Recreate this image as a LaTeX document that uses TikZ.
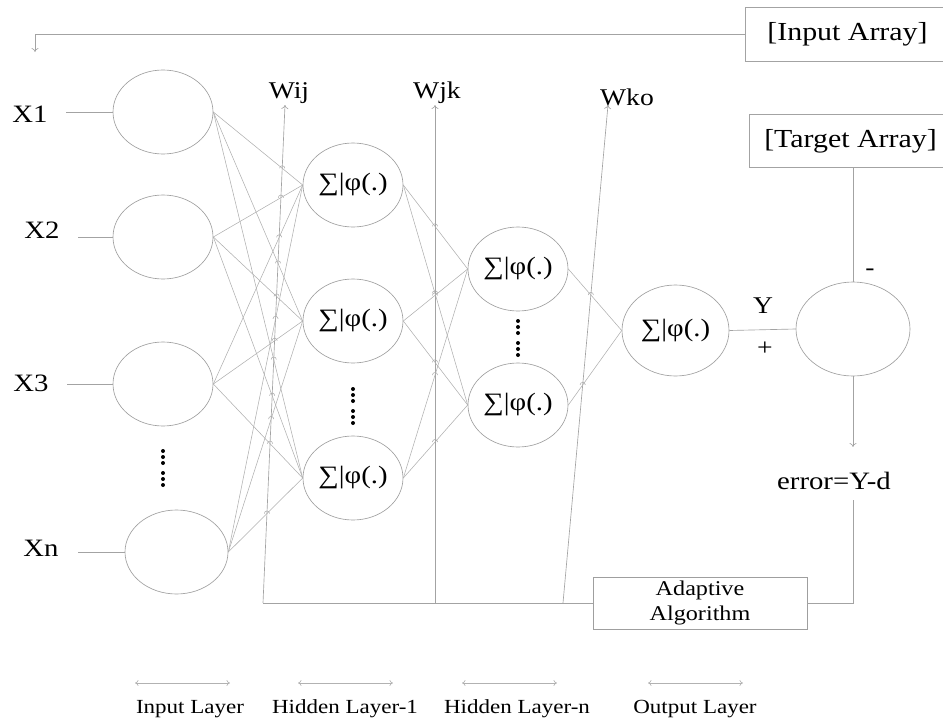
\documentclass[tikz,border=0pt]{standalone}
\usepackage{fontspec}
\setmainfont{Liberation Serif}[FakeStretch=1.15]
\usetikzlibrary{shapes.geometric,arrows.meta,intersections,calc}

\tikzset{
  neuron/.style={ellipse, draw=gray!75, line width=0.65pt, minimum width=100pt,
    minimum height=84pt, inner sep=0pt, font=\fontsize{25}{27}\selectfont},
  conn/.style={draw=gray!62, line width=0.55pt},
  wire/.style={draw=gray!72, line width=0.65pt},
  tip/.style={-{To[length=4pt,width=7pt]}},
  bothtips/.style={{To[length=3.5pt,width=6pt]}-{To[length=3.5pt,width=6pt]}},
  hop/.style={draw=gray!65, line width=0.55pt},
  lbl/.style={inner sep=0pt, font=\fontsize{24}{26}\selectfont},
  xlbl/.style={inner sep=0pt, font=\fontsize{25}{27}\selectfont},
  layerlbl/.style={inner sep=0pt, font=\fontsize{20}{22}\selectfont},
  databox/.style={rectangle, inner sep=0pt, font=\fontsize{26}{28}\selectfont},
  algobox/.style={rectangle, draw=gray!75, line width=0.65pt, align=center,
    minimum width=214pt, minimum height=52pt, inner sep=0pt,
    font=\fontsize{21}{25}\selectfont},
  dot/.style={circle, fill=black, inner sep=0pt, minimum size=4pt},
}

\begin{document}
\begin{tikzpicture}[x=1pt,y=-1pt]
\useasboundingbox (0,0) rectangle (943,720);

% ---- data boxes (open towards the right margin) ----
\node[databox, minimum width=197pt, minimum height=53pt] (ia) at (844.5,34.5) {\hspace*{6pt}[Input Array]};
\draw[wire] (ia.north east) -- (ia.north west) -- (ia.south west) -- (ia.south east);
\node[databox, minimum width=193pt, minimum height=52pt] (ta) at (846.5,141) {\hspace*{8pt}[Target Array]};
\draw[wire] (ta.north east) -- (ta.north west) -- (ta.south west) -- (ta.south east);

% feedback of the input array
\coordinate (fb) at (35,52);
\draw[wire,tip] (ia.west) -| (fb);

% ---- input layer ----
\node[neuron] (i1) at (163,112) {};
\node[neuron] (i2) at (163,237) {};
\node[neuron] (i3) at (163,384) {};
\node[neuron, minimum width=103pt] (i4) at (176.5,552) {};

\node[xlbl] (x1) at (30,114) {X1};
\node[xlbl] (x2) at (42,230) {X2};
\node[xlbl] (x3) at (31,383) {X3};
\node[xlbl] (x4) at (41,548) {Xn};

\coordinate (s1) at (66,112);
\coordinate (s2) at (78,237);
\coordinate (s3) at (67,384);
\coordinate (s4) at (78,552);
\foreach \k in {1,2,3,4}{\draw[wire] (s\k) -- (i\k.west);}

% ---- hidden layers and output ----
\node[neuron] (ha1) at (353,185) {∑|φ(.)};
\node[neuron] (ha2) at (353,321) {∑|φ(.)};
\node[neuron] (ha3) at (353,478) {∑|φ(.)};

\node[neuron] (hb1) at (518,269) {∑|φ(.)};
\node[neuron] (hb2) at (518,405) {∑|φ(.)};

\node[neuron, minimum width=107pt, minimum height=91pt] (out) at (675.5,330.5) {∑|φ(.)};
\node[neuron, minimum width=114pt, minimum height=94pt] (cmp) at (853,329) {};

% vertical ellipses
\foreach \cx/\cy in {163/451, 353/389, 518/321}{
  \foreach \d in {0,6,12,22,28,34}{
    \node[dot] at (\cx,\cy+\d) {};
  }
}

% ---- weight adaptation lines ----
\coordinate (wijb) at (263,603); \coordinate (wijt) at (285,105);
\coordinate (wjkb) at (435,603); \coordinate (wjkt) at (435,105);
\coordinate (wkob) at (563,603); \coordinate (wkot) at (608,105);
\draw[wire,tip,name path=wij] (wijb) -- (wijt);
\draw[wire,tip,name path=wjk] (wjkb) -- (wjkt);
\draw[wire,tip,name path=wko] (wkob) -- (wkot);
\node[lbl] (lij) at (289,93) {Wij};
\node[lbl] (ljk) at (437,93) {Wjk};
\node[lbl] (lko) at (627,97) {Wko};

% ---- weighted connections, hopping over the weight lines ----
\foreach \a in {1,2,3,4}{
  \foreach \b in {1,2,3}{
    \draw[conn, name path=c] (i\a.east) -- (ha\b.west);
    \path[name intersections={of=c and wij, by=q}];
    \draw[hop] ($(q)+(-2.6pt,0pt)$) arc[start angle=180, end angle=0, radius=2.6pt];
  }
}
\foreach \a in {1,2,3}{
  \foreach \b in {1,2}{
    \draw[conn, name path=c] (ha\a.east) -- (hb\b.west);
    \path[name intersections={of=c and wjk, by=q}];
    \draw[hop] ($(q)+(-2.6pt,0pt)$) arc[start angle=180, end angle=0, radius=2.6pt];
  }
}
\foreach \a in {1,2}{
  \draw[conn, name path=c] (hb\a.east) -- (out.west);
  \path[name intersections={of=c and wko, by=q}];
  \draw[hop] ($(q)+(-2.6pt,0pt)$) arc[start angle=180, end angle=0, radius=2.6pt];
}

% ---- error computation ----
\draw[wire] (out.east) -- (cmp.west);
\draw[wire] (ta.south -| cmp.north) -- (cmp.north);
\node[lbl] (ly) at (763,306) {Y};
\node[lbl] (lp) at (765,349) {+};
\node[lbl] (lm) at (870,272) {-};

\coordinate (et) at (853,447);
\draw[wire,tip] (cmp.south) -- (et);
\node[lbl, font=\fontsize{25}{27}\selectfont] (err) at (834,481) {error=Y-d};

% ---- adaptive algorithm ----
\node[algobox] (aa) at (700,603) {Adaptive\\Algorithm};
\coordinate (eb) at (853,500);
\draw[wire] (eb) |- (aa.east);
\draw[wire] (aa.west) -- (wijb);

% ---- layer captions ----
\foreach \n/\l/\r/\c/\t in {1/135/230/190/Input Layer,
                            2/298/393/345/Hidden Layer-1,
                            3/462/557/517/Hidden Layer-n,
                            4/648/743/695/Output Layer}{
  \coordinate (bl\n) at (\l,683);
  \coordinate (br\n) at (\r,683);
  \draw[draw=gray!60, line width=0.65pt, bothtips] (bl\n) -- (br\n);
  \node[layerlbl] (cap\n) at (\c,709) {\t};
}
\end{tikzpicture}
\end{document}
